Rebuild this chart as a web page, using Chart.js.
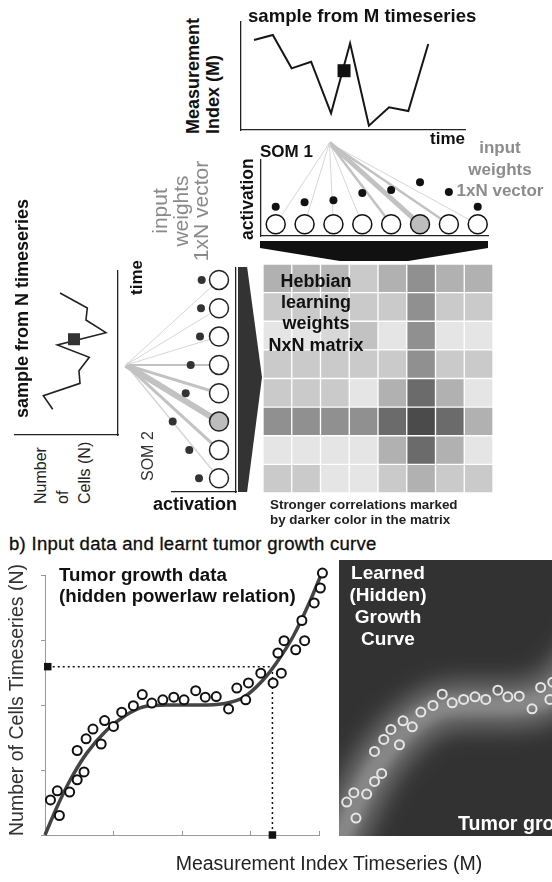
<!DOCTYPE html>
<html>
<head>
<meta charset="utf-8">
<script src="https://cdn.jsdelivr.net/npm/chart.js@4.4.1/dist/chart.umd.min.js"></script>
<style>
  html, body { margin: 0; padding: 0; background: #fff; }
  body { position: relative; width: 552px; height: 882px; overflow: hidden; font-family: "Liberation Sans", Arial, sans-serif; color: #111; }
  .t { position: absolute; white-space: pre; line-height: 20px; z-index: 2; }
  .b { font-weight: bold; }
  .rot { transform: rotate(-90deg); transform-origin: 0 0; }
  .shape { position: absolute; z-index: 1; }
</style>
</head>
<body>

<!-- a) top: M timeseries + SOM 1 -->
<div class="t b" style="left:248px;top:6px;font-size:18.6px">sample from M timeseries</div>
<div class="t b rot" style="left:183px;top:134px;font-size:18px">Measurement
Index (M)</div>
<div class="t b" style="left:430px;top:129px;font-size:17px">time</div>
<div class="t b" style="left:260px;top:142px;font-size:17px">SOM 1</div>
<div class="t b rot" style="left:237px;top:240px;font-size:17.5px">activation</div>
<div class="t b" style="left:440px;top:137px;width:120px;text-align:center;line-height:21.5px;font-size:17px;color:#8c8c8c">input
weights
1xN vector</div>
<div class="shape" style="left:260px;top:241px;width:228px;height:20px;background:#111;clip-path:polygon(0 0,100% 0,100% 35%,65% 100%,35% 100%,0 35%)"></div>

<!-- a) left: N timeseries + SOM 2 -->
<div class="t b rot" style="left:12px;top:418px;font-size:18px">sample from N timeseries</div>
<div class="t b rot" style="left:127px;top:295px;font-size:17px">time</div>
<div class="t rot" style="left:150px;top:276px;width:130px;text-align:center;line-height:20.7px;font-size:21px;color:#8a8a8a">input
weights
1xN vector</div>
<div class="t rot" style="left:30px;top:504px;font-size:16px;line-height:22px;color:#222">Number
of
Cells (N)</div>
<div class="t rot" style="left:138px;top:481px;font-size:16px;color:#333">SOM 2</div>
<div class="t b" style="left:153px;top:494px;font-size:18px">activation</div>
<div class="shape" style="left:238px;top:267px;width:24px;height:225px;background:#333;clip-path:polygon(0 0,38% 0,100% 49%,38% 100%,0 100%)"></div>

<!-- Hebbian matrix -->
<div class="t b" style="left:256px;top:271px;width:120px;text-align:center;line-height:21.2px;font-size:18px">Hebbian
learning
weights
NxN matrix</div>
<div class="t b" style="left:270px;top:497px;line-height:15px;font-size:13.4px;color:#222">Stronger correlations marked
by darker color in the matrix</div>

<!-- b) growth curve -->
<div class="t" style="left:9px;top:534px;font-size:18.5px;letter-spacing:0.3px;-webkit-text-stroke:0.3px #000">b) Input data and learnt tumor growth curve</div>
<div class="t b" style="left:59px;top:564px;line-height:21px;font-size:18.7px">Tumor growth data
(hidden powerlaw relation)</div>
<div class="t rot" style="left:6px;top:836px;font-size:19.5px;color:#333">Number of Cells Timeseries (N)</div>
<div class="t" style="left:0;top:853px;width:658px;text-align:center;font-size:19.5px;color:#222">Measurement Index Timeseries (M)</div>
<div class="t b" style="left:328px;top:562px;width:120px;text-align:center;line-height:22px;font-size:19px;color:#fff">Learned
(Hidden)
Growth
Curve</div>
<div class="t b" style="left:458px;top:812px;line-height:22px;font-size:19.6px;color:#fff">Tumor growth data</div>

<script>
// ============================================================
// DATA
// ============================================================

// sample from M timeseries (time 0..10, value 0..10)
const mTime  = [0.58, 1.42, 2.26, 3.13, 4.02, 4.87, 5.71, 6.61, 7.47, 8.36];
const mValue = [8.33, 8.80, 5.71, 6.32, 1.55, 8.03, 0.40, 2.10, 1.76, 7.96];
const mPick  = [4.60, 5.49];

// sample from N timeseries (drawn rotated: value to the left, time upwards)
const nValue = [5.63, 2.98, 3.11, 1.17, 5.89, 2.79, 3.79, 3.69, 7.25, 6.34];
const nTime  = [8.66, 7.74, 7.01, 6.24, 5.49, 4.74, 3.92, 3.15, 2.40, 1.57];
const nPick  = [4.27, 5.84];

// SOM 1: input weight per neuron, link strength, winner neuron
const som1Weight = [2.93, 3.37, 3.57, 4.30, 4.60, 5.37, 4.40, 2.93];
const som1Link   = [1, 1, 1, 1, 2.5, 5, 2.5, 1];
const som1Winner = 5;
const som1Input  = [1.86, 9.3];
const som1Base   = 1.17;

// SOM 2
const som2Weight = [3.43, 3.50, 3.60, 4.53, 5.03, 6.33, 4.67, 3.70];
const som2Link   = [1, 1, 1, 2, 3, 6, 3, 1.5];
const som2Winner = 5;
const som2Input  = [11.0, 3.0];
const som2Base   = 1.7;

// Hebbian NxN weights (0 weak .. 1 strong), rows top to bottom
const hebbWeights = [
  [0.35, 0.32, 0.32, 0.20, 0.35, 0.54, 0.35, 0.35],
  [0.20, 0.20, 0.20, 0.20, 0.20, 0.54, 0.20, 0.20],
  [0.04, 0.04, 0.12, 0.25, 0.04, 0.54, 0.04, 0.04],
  [0.20, 0.20, 0.20, 0.20, 0.20, 0.54, 0.20, 0.20],
  [0.20, 0.20, 0.20, 0.04, 0.35, 0.76, 0.35, 0.04],
  [0.54, 0.54, 0.54, 0.54, 0.76, 0.95, 0.76, 0.35],
  [0.04, 0.04, 0.04, 0.04, 0.35, 0.76, 0.35, 0.04],
  [0.20, 0.20, 0.04, 0.04, 0.20, 0.35, 0.20, 0.20]
];

// b) tumor growth data (M index, N cells)
const growthX = [0.08, 0.18, 0.21, 0.36, 0.47, 0.47, 0.57, 0.60, 0.70, 0.82, 0.87, 1.00, 1.12,
                 1.29, 1.42, 1.56, 1.72, 1.88, 2.03, 2.20, 2.34, 2.50, 2.68, 2.80, 2.93, 2.97,
                 3.15, 3.33, 3.45, 3.40, 3.49, 3.66, 3.75, 3.79, 3.93, 4.02, 4.05];
const growthY = [0.54, 0.68, 0.30, 0.66, 0.85, 1.30, 0.97, 1.48, 1.63, 1.40, 1.76, 1.67, 1.89,
                 1.99, 2.16, 2.03, 2.08, 2.12, 2.08, 2.22, 2.12, 2.13, 1.94, 2.26, 2.08, 2.34,
                 2.49, 2.34, 2.49, 2.80, 2.99, 2.85, 3.30, 2.99, 3.57, 3.80, 4.03];

// hidden growth curve
const curveX = [0, 0.17, 0.37, 0.61, 0.90, 1.19, 1.43, 1.78, 2.26, 2.60, 2.89, 3.18, 3.38, 3.62, 3.87, 4.04];
const curveY = [0, 0.42, 0.85, 1.26, 1.61, 1.85, 1.97, 2.00, 2.00, 2.02, 2.11, 2.38, 2.65, 3.05, 3.60, 4.03];

// picked sample on both axes
const pickM = 3.32;
const pickN = 2.59;

// ============================================================
// HELPERS
// ============================================================

function place(left, top, w, h, bg) {
  const c = document.createElement('canvas');
  c.width = w; c.height = h;
  c.style.cssText = `position:absolute;left:${left}px;top:${top}px;width:${w}px;height:${h}px;` + (bg ? `background:${bg};` : '');
  document.body.appendChild(c);
  return c;
}

function axis(min, max, extra) {
  return Object.assign({
    type: 'linear', min, max,
    ticks: { display: false },
    grid: { display: false, drawTicks: false },
    border: { display: true, color: '#222', width: 1.3 },
    afterFit: s => { if (s.isHorizontal()) s.height = 0; else s.width = 0; }
  }, extra || {});
}

function hidden(min, max, extra) {
  return Object.assign({ type: 'linear', display: false, min, max }, extra || {});
}

function base(scales, padding) {
  return {
    responsive: false, animation: false, events: [],
    layout: { padding, autoPadding: false },
    plugins: { legend: { display: false }, tooltip: { enabled: false } },
    scales
  };
}

// blurs datasets that carry a "blur" value (glow of the learned curve)
const glowPlugin = {
  id: 'glow',
  beforeDatasetDraw(chart, args) {
    const ds = chart.data.datasets[args.index];
    if (ds.blur) { chart.ctx.save(); chart.ctx.filter = `blur(${ds.blur}px)`; }
  },
  afterDatasetDraw(chart, args) {
    if (chart.data.datasets[args.index].blur) chart.ctx.restore();
  }
};

const pts = (xs, ys) => xs.map((x, i) => ({ x, y: ys[i] }));
const gray = w => { const g = Math.round(236 - 170 * w); return `rgb(${g},${g},${g})`; };
const linkColor = w => w >= 2 ? '#c2c2c2' : '#d6d6d6';

// ============================================================
// 1. M timeseries
// ============================================================
new Chart(place(236, 17, 234, 118), {
  type: 'scatter',
  data: { datasets: [
    { data: [{ x: mPick[0], y: mPick[1] }], pointStyle: 'rect', pointRadius: 9.2, backgroundColor: '#111', borderWidth: 0, order: 0 },
    { data: pts(mTime, mValue), showLine: true, borderColor: '#161616', borderWidth: 2, pointRadius: 0, order: 1 }
  ]},
  options: base({ x: axis(0, 10), y: axis(0, 10) }, { left: 5, top: 5, right: 5, bottom: 5 })
});

// ============================================================
// 2. SOM 1
// ============================================================
const som1Idx = som1Weight.map((_, i) => i);
new Chart(place(254, 134, 240, 108), {
  type: 'scatter',
  data: { datasets: [
    { data: [{ x: som1Input[0], y: som1Input[1] }], pointStyle: 'rect', pointRadius: 5.7, backgroundColor: '#111', borderWidth: 0, clip: false, order: 0 },
    { data: som1Idx.map(i => ({ x: i, y: som1Base })), pointRadius: 9.5, borderWidth: 1.5, borderColor: '#111',
      backgroundColor: som1Idx.map(i => i === som1Winner ? '#bdbdbd' : '#fff'), clip: false, order: 1 },
    { data: pts(som1Idx, som1Weight), pointRadius: 4, backgroundColor: '#111', borderWidth: 0, clip: false, order: 2 },
    ...som1Link.map((w, i) => ({
      data: [{ x: som1Input[0], y: som1Input[1] }, { x: i, y: som1Base }], showLine: true,
      borderColor: linkColor(w), borderWidth: w, pointRadius: 0, clip: false, order: 3
    }))
  ]},
  options: base({ x: axis(-0.51, 7.356), y: axis(0, 7.6) }, { left: 7, top: 26, right: 6, bottom: 6 })
});

// ============================================================
// 3. N timeseries (rotated)
// ============================================================
new Chart(place(10, 266, 113, 174), {
  type: 'scatter',
  data: { datasets: [
    { data: [{ x: nPick[0], y: nPick[1] }], pointStyle: 'rect', pointRadius: 8.5, backgroundColor: '#333', borderWidth: 0, order: 0 },
    { data: pts(nValue, nTime), showLine: true, borderColor: '#222', borderWidth: 1.6, pointRadius: 0, order: 1 }
  ]},
  options: base({ x: axis(0, 10, { reverse: true }), y: axis(0, 10, { position: 'right' }) }, { left: 5, top: 5, right: 5, bottom: 5 })
});

// ============================================================
// 4. SOM 2 (rotated)
// ============================================================
const som2Idx = som2Weight.map((_, i) => i);
new Chart(place(116, 262, 126, 236), {
  type: 'scatter',
  data: { datasets: [
    { data: [{ x: som2Input[0], y: som2Input[1] }], pointStyle: 'rect', pointRadius: 5.7, backgroundColor: '#333', borderWidth: 0, clip: false, order: 0 },
    { data: som2Idx.map(i => ({ x: som2Base, y: i })), pointRadius: 9.5, borderWidth: 1.5, borderColor: '#222',
      backgroundColor: som2Idx.map(i => i === som2Winner ? '#bdbdbd' : '#fff'), clip: false, order: 1 },
    { data: som2Idx.map(i => ({ x: som2Weight[i], y: i })), pointRadius: 4, backgroundColor: '#333', borderWidth: 0, clip: false, order: 2 },
    ...som2Link.map((w, i) => ({
      data: [{ x: som2Input[0], y: som2Input[1] }, { x: som2Base, y: i }], showLine: true,
      borderColor: linkColor(w), borderWidth: w, pointRadius: 0, clip: false, order: 3
    }))
  ]},
  options: base({
    x: axis(0, 6.4, { reverse: true }),
    y: axis(-0.42, 7.483, { reverse: true, position: 'right' })
  }, { left: 56, top: 6, right: 6, bottom: 6 })
});

// ============================================================
// 5. Hebbian NxN matrix (stacked bars, one stack per column)
// ============================================================
new Chart(place(263, 264, 230, 229), {
  type: 'bar',
  data: {
    labels: hebbWeights[0].map((_, i) => i),
    datasets: hebbWeights.slice().reverse().map(row => ({
      data: row.map(() => 1), backgroundColor: row.map(gray),
      borderColor: 'rgba(255,255,255,0.35)', borderWidth: 1, borderSkipped: false,
      barPercentage: 1, categoryPercentage: 1
    }))
  },
  options: base({
    x: { display: false, stacked: true },
    y: { display: false, stacked: true, min: 0, max: hebbWeights.length }
  }, 0)
});

// ============================================================
// 6. Tumor growth data + hidden curve
// ============================================================
new Chart(place(25, 555, 310, 300), {
  type: 'scatter',
  data: { datasets: [
    { data: [{ x: 0.04, y: pickN }, { x: pickM, y: 0 }], pointStyle: 'rect', pointRadius: 5.3, backgroundColor: '#111', borderWidth: 0, clip: false, order: 0 },
    { data: pts(growthX, growthY), pointRadius: 4.5, borderWidth: 2, borderColor: '#111', backgroundColor: '#fff', clip: false, order: 1 },
    { data: pts(curveX, curveY), showLine: true, cubicInterpolationMode: 'monotone', borderColor: '#444', borderWidth: 3.5,
      pointRadius: 0, clip: false, order: 2 },
    { data: [{ x: 0.04, y: pickN }, { x: pickM, y: pickN }, { x: pickM, y: 0 }], showLine: true, borderColor: '#111',
      borderWidth: 1.5, borderDash: [2, 3], pointRadius: 0, clip: false, order: 3 }
  ]},
  options: base({
    x: { type: 'linear', min: 0, max: 4, ticks: { display: false, stepSize: 1 },
         grid: { display: true, drawOnChartArea: false, drawTicks: true, tickLength: -4, color: '#999' },
         border: { display: true, color: '#999', width: 1 }, afterFit: s => { s.height = 0; } },
    y: { type: 'linear', min: 0, max: 4, ticks: { display: false, stepSize: 1 },
         grid: { display: true, drawOnChartArea: false, drawTicks: true, tickLength: 4, color: '#999' },
         border: { display: true, color: '#999', width: 1 }, afterFit: s => { s.width = 4; } }
  }, { left: 16, top: 20, right: 16, bottom: 20 })
});

// ============================================================
// 7. Learned (hidden) growth curve
// ============================================================
new Chart(place(339, 560, 300, 276, '#323232'), {
  type: 'scatter',
  data: { datasets: [
    { data: pts(growthX, growthY), pointRadius: 4.5, borderWidth: 2, borderColor: '#e6e6e6', backgroundColor: 'rgba(0,0,0,0)', order: 0 },
    { data: pts(curveX, curveY), showLine: true, cubicInterpolationMode: 'monotone', blur: 5,
      borderColor: 'rgba(255,255,255,0.16)', borderWidth: 20, borderCapStyle: 'round', pointRadius: 0, order: 1 },
    { data: pts(curveX, curveY), showLine: true, cubicInterpolationMode: 'monotone', blur: 12,
      borderColor: 'rgba(255,255,255,0.32)', borderWidth: 46, borderCapStyle: 'round', pointRadius: 0, order: 2 }
  ]},
  options: base({ x: hidden(-0.028, 4.18), y: hidden(0.03, 4.174) }, 0),
  plugins: [glowPlugin]
});
</script>
</body>
</html>
